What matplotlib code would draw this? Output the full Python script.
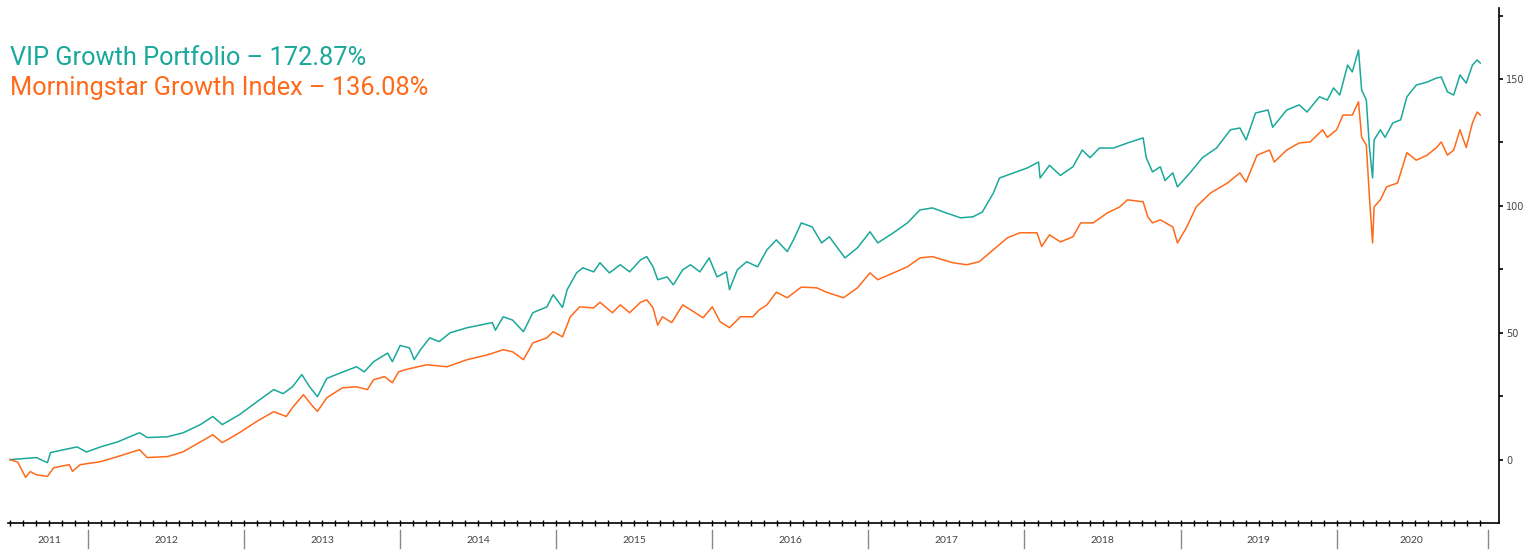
import numpy as np
import matplotlib
matplotlib.use("Agg")
import matplotlib.pyplot as plt
import matplotlib.transforms as mtransforms

# Cumulative return (%), x in decimal years
vip_years = [2011.50, 2011.67, 2011.74, 2011.76, 2011.93, 2011.99, 2012.08, 2012.19, 2012.33, 2012.38,
             2012.51, 2012.61, 2012.72, 2012.80, 2012.86, 2012.97, 2013.10, 2013.19, 2013.25, 2013.31,
             2013.37, 2013.42, 2013.47, 2013.53, 2013.61, 2013.72, 2013.77, 2013.83, 2013.92, 2013.95,
             2014.00, 2014.06, 2014.09, 2014.13, 2014.19, 2014.25, 2014.32, 2014.43, 2014.51, 2014.59,
             2014.61, 2014.66, 2014.72, 2014.79, 2014.85, 2014.94, 2014.98, 2015.04, 2015.07, 2015.13,
             2015.17, 2015.24, 2015.28, 2015.34, 2015.41, 2015.47, 2015.54, 2015.58, 2015.62, 2015.65,
             2015.71, 2015.75, 2015.81, 2015.86, 2015.92, 2015.98, 2016.03, 2016.09, 2016.11, 2016.16,
             2016.22, 2016.29, 2016.35, 2016.41, 2016.48, 2016.52, 2016.57, 2016.64, 2016.70, 2016.75,
             2016.85, 2016.93, 2017.01, 2017.06, 2017.16, 2017.25, 2017.33, 2017.41, 2017.50, 2017.59,
             2017.67, 2017.73, 2017.80, 2017.84, 2017.93, 2018.02, 2018.09, 2018.10, 2018.16, 2018.23,
             2018.31, 2018.37, 2018.42, 2018.48, 2018.57, 2018.66, 2018.76, 2018.78, 2018.82, 2018.87,
             2018.90, 2018.95, 2018.98, 2019.06, 2019.14, 2019.23, 2019.32, 2019.38, 2019.42, 2019.48,
             2019.56, 2019.59, 2019.68, 2019.76, 2019.81, 2019.89, 2019.94, 2019.98, 2020.02, 2020.07,
             2020.10, 2020.14, 2020.16, 2020.19, 2020.21, 2020.23, 2020.24, 2020.28, 2020.31, 2020.36,
             2020.41, 2020.45, 2020.51, 2020.58, 2020.64, 2020.67, 2020.71, 2020.75, 2020.79, 2020.83,
             2020.87, 2020.90, 2020.92]
vip_values = [0, 0.8, -1.2, 2.8, 5, 3, 5, 7, 10.6, 8.7,
              9, 10.6, 13.8, 17, 13.8, 17.7, 23.6, 27.6, 26, 28.7,
              33.5, 28.7, 24.8, 32, 34, 36.6, 34.6, 38.6, 42, 38.6,
              45, 44, 39.4, 43.3, 48, 46.5, 50, 52, 53, 54,
              51, 56.3, 55, 50.4, 57.9, 60.2, 65, 60, 67, 73.6,
              75.6, 74, 77.6, 73.6, 76.8, 74, 78.7, 80, 76, 70.9,
              72, 68.9, 74.8, 76.8, 74, 79.5, 72, 74, 67, 74.8,
              78, 76, 82.7, 86.6, 82, 86.6, 93.3, 91.7, 85.4, 87.8,
              79.5, 83.5, 89.8, 85.4, 89.4, 93.3, 98.4, 99.2, 97.2, 95.3,
              95.7, 97.6, 105, 111, 113, 115, 117.3, 111, 116, 112,
              115.4, 122, 119, 122.8, 122.8, 124.8, 126.8, 119, 113.4, 115.4,
              110, 113, 107.5, 113, 119, 122.8, 130, 130.7, 126, 136.6,
              137.8, 131, 137.8, 139.8, 137, 143, 141.7, 146.5, 143.7, 155.5,
              152.8, 161.4, 145.7, 141.7, 123, 111, 126, 130, 127, 132.7,
              133.9, 143, 147.6, 148.8, 150.4, 150.8, 144.9, 143.7, 151.6, 148.4,
              155.5, 157.5, 156.3]

idx_years = [2011.50, 2011.55, 2011.60, 2011.63, 2011.67, 2011.74, 2011.78, 2011.88, 2011.90, 2011.95,
             2012.08, 2012.19, 2012.33, 2012.38, 2012.51, 2012.61, 2012.72, 2012.80, 2012.86, 2012.97,
             2013.08, 2013.19, 2013.27, 2013.31, 2013.38, 2013.44, 2013.47, 2013.53, 2013.63, 2013.72,
             2013.79, 2013.83, 2013.90, 2013.95, 2013.99, 2014.03, 2014.17, 2014.30, 2014.43, 2014.56,
             2014.66, 2014.72, 2014.79, 2014.85, 2014.94, 2014.98, 2015.04, 2015.09, 2015.15, 2015.24,
             2015.28, 2015.36, 2015.41, 2015.47, 2015.54, 2015.58, 2015.62, 2015.65, 2015.68, 2015.74,
             2015.81, 2015.88, 2015.94, 2016.00, 2016.05, 2016.11, 2016.18, 2016.26, 2016.30, 2016.35,
             2016.41, 2016.48, 2016.57, 2016.67, 2016.73, 2016.84, 2016.93, 2017.01, 2017.06, 2017.16,
             2017.25, 2017.33, 2017.41, 2017.54, 2017.63, 2017.71, 2017.80, 2017.89, 2017.97, 2018.08,
             2018.11, 2018.16, 2018.23, 2018.31, 2018.36, 2018.44, 2018.53, 2018.61, 2018.66, 2018.76,
             2018.79, 2018.82, 2018.87, 2018.95, 2018.98, 2019.04, 2019.10, 2019.19, 2019.30, 2019.38,
             2019.42, 2019.49, 2019.57, 2019.60, 2019.68, 2019.76, 2019.83, 2019.91, 2019.94, 2020.00,
             2020.04, 2020.10, 2020.14, 2020.16, 2020.19, 2020.21, 2020.23, 2020.24, 2020.28, 2020.32,
             2020.39, 2020.45, 2020.51, 2020.58, 2020.64, 2020.67, 2020.71, 2020.75, 2020.79, 2020.83,
             2020.87, 2020.90, 2020.92]
idx_values = [0, -1, -7, -4.7, -6, -6.6, -3.2, -2, -4.6, -2,
              -0.8, 1.2, 3.9, 0.8, 1.2, 3.1, 7, 9.8, 6.7, 10.6,
              15, 18.9, 17, 20.5, 25.6, 21, 19, 24.4, 28.3, 28.7,
              27.6, 31.5, 32.7, 30.3, 34.6, 35.4, 37.4, 36.6, 39.4, 41.3,
              43.3, 42.5, 39.4, 46, 48, 50.4, 48.4, 56.3, 60.2, 59.8,
              62, 57.9, 61, 57.9, 62, 63, 59.8, 53, 56.3, 54,
              61, 58.3, 55.9, 60.2, 54.3, 52, 56.3, 56.3, 59, 61,
              66, 63.8, 68, 67.7, 66, 63.8, 67.7, 73.6, 70.9, 73.6,
              76, 79.5, 80, 77.6, 76.8, 78, 82.7, 87.4, 89.4, 89.4,
              84, 88.6, 85.8, 87.8, 93.3, 93.3, 97.2, 99.6, 102.4, 101.6,
              95.7, 93.3, 94.5, 91.7, 85.4, 91.7, 99.6, 105, 109, 113,
              109.4, 120, 122, 117.3, 122, 124.8, 125.2, 130, 127, 130,
              135.8, 135.8, 141, 127, 124, 103.5, 85.4, 99.6, 102.4, 107.5,
              109, 121, 118, 120, 123, 125.2, 120, 122, 130, 123,
              132.7, 137, 135.8]

year_labels = ["2011", "2012", "2013", "2014", "2015", "2016", "2017", "2018", "2019", "2020"]
year_label_pos = [2011.75, 2012.5, 2013.5, 2014.5, 2015.5, 2016.5, 2017.5, 2018.5, 2019.5, 2020.48]
separators = [2012, 2013, 2014, 2015, 2016, 2017, 2018, 2019, 2020, 2020.97]

TEAL = "#1AA89B"
ORANGE = "#FF6A1A"

fig = plt.figure(figsize=(15.26, 5.5), dpi=100)
ax = fig.add_axes([0.0052, 0.049, 0.9771, 0.9365])

ax.plot(vip_years, vip_values, color=TEAL, lw=1.1)
ax.plot(idx_years, idx_values, color=ORANGE, lw=1.1)

ax.set_xlim(2011.487, 2021.04)
ax.set_ylim(-25, 178)

for s in ["left", "top"]:
    ax.spines[s].set_visible(False)
ax.spines["bottom"].set_linewidth(1.2)
ax.spines["right"].set_linewidth(1.2)

# right axis
ax.yaxis.tick_right()
ax.set_yticks([0, 50, 100, 150])
ax.set_yticks([25, 75, 125, 175], minor=True)
ax.tick_params(axis="y", which="major", direction="out", length=3, width=1.2,
               labelsize=7, labelcolor="#444444", pad=2)
ax.tick_params(axis="y", which="minor", direction="out", length=3, width=1.2)

# monthly ticks along the bottom
months = np.arange(2011.5, 2021.0, 1 / 12)
ax.set_xticks(months)
ax.set_xticklabels([])
ax.tick_params(axis="x", which="major", direction="inout", length=5, width=1.0)

trans = mtransforms.blended_transform_factory(ax.transData, ax.transAxes)
for sx in separators:
    ax.plot([sx, sx], [-0.014, -0.048], transform=trans, color="#888888", lw=1.0, clip_on=False)
for lab, pos in zip(year_labels, year_label_pos):
    ax.text(pos, -0.033, lab, transform=trans, ha="center", va="center",
            fontsize=7.5, color="#444444", family="Lato")

fig.text(0.0066, 0.882, "VIP Growth Portfolio \u2013 172.87%", color=TEAL,
         fontsize=18.3, family="Roboto", fontweight="normal", va="baseline")
fig.text(0.0066, 0.827, "Morningstar Growth Index \u2013 136.08%", color=ORANGE,
         fontsize=18.3, family="Roboto", fontweight="normal", va="baseline")

fig.savefig("out.png", dpi=100)
